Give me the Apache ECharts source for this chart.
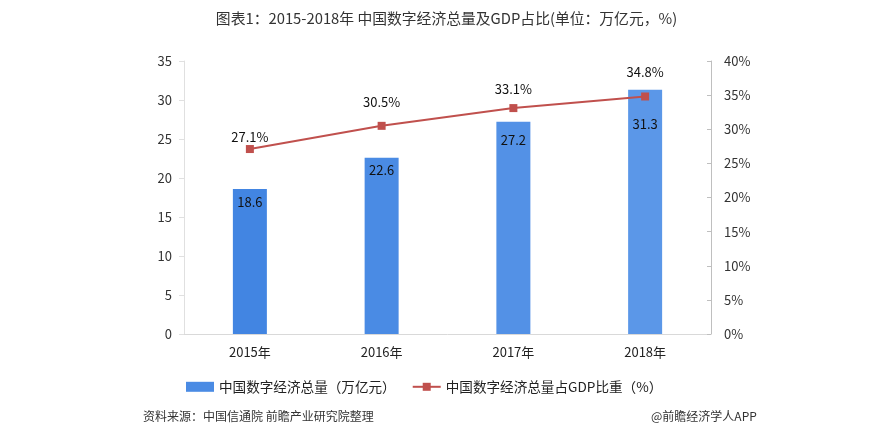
<!DOCTYPE html>
<html><head><meta charset="utf-8">
<script src="https://cdn.jsdelivr.net/npm/echarts@6/dist/echarts.min.js"></script>
<style>html,body{margin:0;padding:0;background:#fff}#c{width:893px;height:437px}</style>
</head><body><div id="c"></div>
<script>
const categories = ['2015年','2016年','2017年','2018年'];
const totalValues = [18.6, 22.6, 27.2, 31.3];
const shareValues = [27.1, 30.5, 33.1, 34.8];
const barColors = ['#4285e2','#4a8be4','#5391e6','#5b97e8'];
const barLabelGap = [7, 6, 12, 28];
const lineLabelGap = [1, 13, 9, 14];
const leftTicks = {min:0, max:35, interval:5};
const rightTicks = {min:0, max:40, interval:5};
const FF = '"Noto Sans CJK SC", sans-serif';

const chart = echarts.init(document.getElementById('c'));
chart.setOption({
  animation:false,
  textStyle:{fontFamily:FF},
  title:{text:'图表1：2015-2018年 中国数字经济总量及GDP占比(单位：万亿元，%)', left:'center', top:6,
    textStyle:{fontSize:14.8, fontWeight:'normal', color:'#333', fontFamily:FF}},
  legend:{top:375, left:181, itemGap:16, itemWidth:28, itemHeight:10,
    textStyle:{fontSize:13.6, color:'#222', fontFamily:FF},
    data:[{name:'中国数字经济总量（万亿元）', icon:'rect'},{name:'中国数字经济总量占GDP比重（%）'}]},
  grid:{left:184, right:182, top:61, bottom:103},
  xAxis:{type:'category', data:categories,
    axisLine:{lineStyle:{color:'#d9d9d9'}}, axisTick:{show:false},
    axisLabel:{fontSize:13, color:'#222', margin:12, fontFamily:FF}},
  yAxis:[
    {type:'value', min:leftTicks.min, max:leftTicks.max, interval:leftTicks.interval,
      axisLine:{show:true, lineStyle:{color:'#e0e0e0'}}, axisTick:{show:true, length:5, lineStyle:{color:'#e0e0e0'}},
      splitLine:{show:false}, axisLabel:{fontSize:13, color:'#333', margin:12, fontFamily:FF}},
    {type:'value', min:rightTicks.min, max:rightTicks.max, interval:rightTicks.interval,
      axisLine:{show:true, lineStyle:{color:'#bfbfbf'}}, axisTick:{show:true, inside:true, length:4, lineStyle:{color:'#bfbfbf'}},
      splitLine:{show:false}, axisLabel:{fontSize:13, color:'#333', margin:13, formatter:'{value}%', fontFamily:FF}}
  ],
  series:[
    {name:'中国数字经济总量（万亿元）', type:'bar', barWidth:34, yAxisIndex:0,
      itemStyle:{color:'#4a8be4'},
      data: totalValues.map((v,i)=>({value:v, itemStyle:{color:barColors[i]}, label:{distance:barLabelGap[i]}})),
      label:{show:true, position:'insideTop', fontSize:13, color:'#111', fontFamily:FF}},
    {name:'中国数字经济总量占GDP比重（%）', type:'line', yAxisIndex:1,
      data: shareValues.map((v,i)=>({value:v, label:{distance:lineLabelGap[i]}})),
      symbol:'rect', symbolSize:8, lineStyle:{color:'#c0504d', width:2}, itemStyle:{color:'#c0504d'},
      label:{show:true, position:'top', fontSize:13, color:'#111', formatter:'{c}%', fontFamily:FF}}
  ],
  graphic:[
    {type:'text', left:143, top:410, style:{text:'资料来源：中国信通院 前瞻产业研究院整理', fontSize:12, fill:'#333', fontFamily:FF}},
    {type:'text', left:651, top:410, style:{text:'@前瞻经济学人APP', fontSize:12, fill:'#333', fontFamily:FF}}
  ]
});
</script></body></html>
